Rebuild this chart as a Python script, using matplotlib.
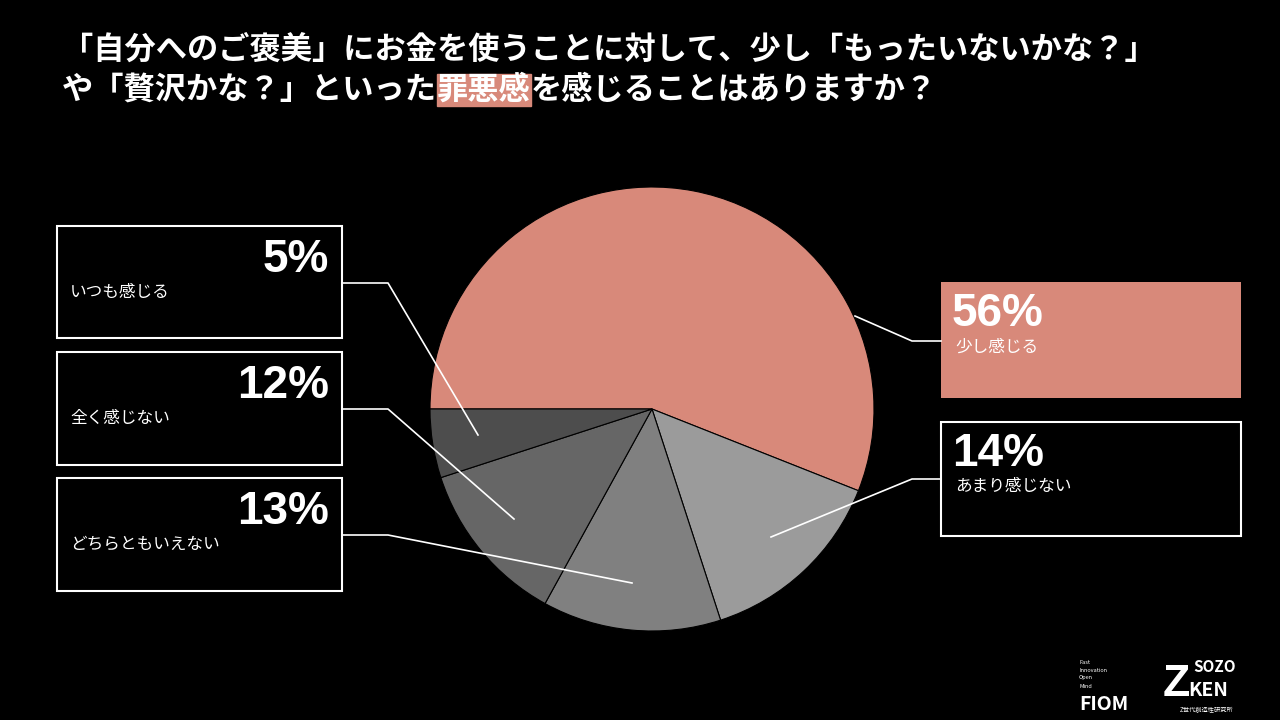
import matplotlib.pyplot as plt
from matplotlib.patches import Rectangle

plt.rcParams['font.family'] = ['Noto Sans CJK JP', 'DejaVu Sans']

labels = ['少し感じる', 'あまり感じない', 'どちらともいえない', '全く感じない', 'いつも感じる']
values = [56, 14, 13, 12, 5]
colors = ['#D8897A', '#9B9B9B', '#808080', '#666666', '#4D4D4D']

title1 = '「自分へのご褒美」にお金を使うことに対して、少し「もったいないかな？」'
title2_parts = ['や「贅沢かな？」といった', '罪悪感', 'を感じることはありますか？']

H = 720
fig = plt.figure(figsize=(12.8, 7.2), dpi=100, facecolor='black')
ax = fig.add_axes([0, 0, 1, 1])

ax.pie(values, colors=colors, startangle=180, counterclock=False,
       center=(652, H - 409), radius=222, frame=True,
       wedgeprops=dict(linewidth=0.8, edgecolor='black'))
ax.set_xlim(0, 1280)
ax.set_ylim(0, H)
ax.set_aspect('equal')
ax.axis('off')

# title
fs = 22.5
ax.text(62, H - 50, title1, color='white', fontsize=fs, fontweight='bold', va='center', zorder=2)
renderer = fig.canvas.get_renderer()
x = 62
for k, part in enumerate(title2_parts):
    t = ax.text(x, H - 90, part, color='white', fontsize=fs, fontweight='bold', va='center', zorder=2)
    w = t.get_window_extent(renderer).width
    if k == 1:
        ax.add_patch(Rectangle((x, H - 106), w, 32, color='#D8897A', zorder=1))
    x += w

# boxes: (x, y_top, w, h, filled, label index)
boxes = [
    (57, 226, 285, 112, False, 4),
    (57, 352, 285, 113, False, 3),
    (57, 478, 285, 113, False, 2),
    (941, 282, 300, 116, True, 0),
    (941, 422, 300, 114, False, 1),
]
for bx, yt, w, h, filled, i in boxes:
    ax.add_patch(Rectangle((bx, H - yt - h), w, h, facecolor='#D8897A' if filled else 'black',
                           edgecolor='none' if filled else 'white', linewidth=1.5, zorder=3))
    if bx < 500:
        ax.text(bx + w - 13, H - yt - 34, f'{values[i]}%', color='white', fontsize=33,
                fontweight='bold', ha='right', va='center', zorder=4, family='Liberation Sans')
        ax.text(bx + 13, H - yt - 66, labels[i], color='white', fontsize=12, va='center', zorder=4)
    else:
        ax.text(bx + 11, H - yt - 32, f'{values[i]}%', color='white', fontsize=33,
                fontweight='bold', ha='left', va='center', zorder=4, family='Liberation Sans')
        ax.text(bx + 14, H - yt - 65, labels[i], color='white', fontsize=12, va='center', zorder=4)

# leader lines
leaders = [
    [(342, 283), (388, 283), (478, 435)],
    [(342, 409), (388, 409), (514, 519)],
    [(342, 535), (388, 535), (632, 583)],
    [(855, 316), (912, 341), (941, 341)],
    [(771, 537), (912, 479), (941, 479)],
]
for pts in leaders:
    ax.plot([p[0] for p in pts], [H - p[1] for p in pts], color='white', lw=1.2, zorder=5)

# logos
for k, s in enumerate(['Fast', 'Innovation', 'Open', 'Mind']):
    ax.text(1079, H - 662 - k * 8, s, color='white', fontsize=4, va='center', zorder=4)
ax.text(1079, H - 704, 'FIOM', color='white', fontsize=14, fontweight='bold', va='center', zorder=4)
ax.text(1163, H - 684, 'Z', color='white', fontsize=32, fontweight='bold', va='center', zorder=4, family='Liberation Sans')
ax.text(1193, H - 667, 'SOZO', color='white', fontsize=11, fontweight='bold', va='center', zorder=4)
ax.text(1188, H - 690, 'KEN', color='white', fontsize=14, fontweight='bold', va='center', zorder=4)
ax.text(1180, H - 709, 'Z世代創造性研究所', color='white', fontsize=4.5, va='center', zorder=4)

fig.savefig('out.png', dpi=100, facecolor='black')
